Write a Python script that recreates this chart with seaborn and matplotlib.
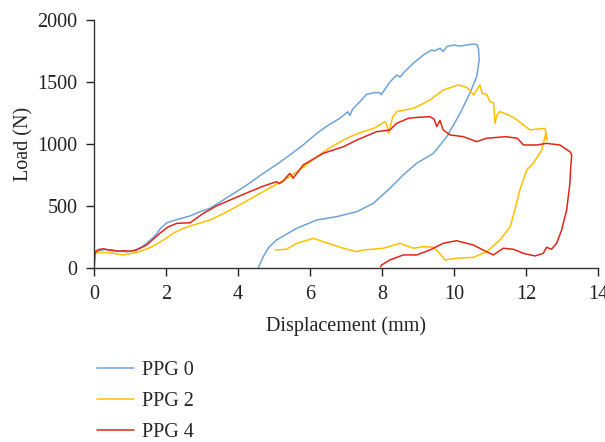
import pandas as pd
import seaborn as sns
import matplotlib.pyplot as plt

# load-displacement curves (loading then unloading)
labels = ["PPG 0", "PPG 2", "PPG 4"]
colors = ["#6fa3d8", "#ffc000", "#e0261c"]

x0 = [0.00, 0.03, 0.10, 0.30, 0.50, 0.70, 0.90, 1.10, 1.30, 1.46, 1.70, 1.85, 2.02, 2.30, 2.67,
      3.00, 3.22, 3.60, 3.96, 4.30, 4.70, 5.10, 5.44, 5.80, 6.19, 6.50, 6.83, 7.05, 7.11, 7.18,
      7.35, 7.57, 7.80, 7.94, 7.98, 8.22, 8.41, 8.50, 8.60, 8.87, 9.15, 9.38, 9.45, 9.61, 9.70,
      9.80, 9.98, 10.17, 10.40, 10.54, 10.64, 10.68, 10.70, 10.66, 10.63, 10.44, 10.17, 9.80,
      9.43, 8.96, 8.59, 8.22, 7.76, 7.30, 6.74, 6.19, 5.63, 5.07, 4.85, 4.70, 4.56]
y0 = [0, 118, 135, 150, 145, 135, 130, 140, 165, 199, 260, 320, 365, 390, 420,
      460, 481, 550, 616, 680, 763, 840, 911, 990, 1086, 1150, 1207, 1260, 1230, 1280,
      1330, 1400, 1415, 1414, 1398, 1500, 1556, 1540, 1575, 1651, 1718, 1758, 1750, 1772, 1745,
      1785, 1798, 1790, 1800, 1806, 1800, 1770, 1677, 1600, 1543, 1409, 1247, 1059,
      925, 844, 750, 643, 522, 454, 414, 387, 320, 226, 165, 91, 0]

x2 = [0.00, 0.03, 0.10, 0.30, 0.50, 0.81, 1.00, 1.27, 1.60, 1.93, 2.20, 2.48, 2.80, 3.22, 3.60,
      3.96, 4.30, 4.70, 5.10, 5.44, 5.80, 6.19, 6.55, 6.93, 7.20, 7.48, 7.80, 8.08, 8.14, 8.18,
      8.30, 8.41, 8.87, 9.10, 9.33, 9.70, 10.12, 10.35, 10.45, 10.54, 10.63, 10.72, 10.78, 10.91,
      11.00, 11.10, 11.14, 11.20, 11.28, 11.50, 11.65, 11.93, 12.11, 12.30, 12.53, 12.58, 12.55,
      12.44, 12.20, 12.02, 11.83, 11.69, 11.56, 11.28, 10.91, 10.54, 10.07, 9.75, 9.56, 9.43,
      9.15, 8.87, 8.50, 8.04, 7.48, 7.30, 6.93, 6.37, 6.09, 5.63, 5.35, 5.03]
y2 = [0, 110, 125, 125, 120, 105, 115, 132, 170, 226, 280, 320, 350, 387, 440,
      495, 550, 616, 680, 737, 810, 898, 970, 1032, 1070, 1099, 1130, 1180, 1150, 1086,
      1220, 1261, 1288, 1320, 1355, 1435, 1476, 1457, 1430, 1395, 1435, 1476, 1409, 1400,
      1341, 1330, 1167, 1240, 1261, 1235, 1215, 1153, 1113, 1120, 1126, 1032, 1086,
      952, 844, 790, 629, 468, 333, 226, 131, 86, 78, 65, 131, 167,
      172, 159, 199, 159, 145, 131, 159, 212, 239, 199, 151, 145]

x4 = [0.00, 0.02, 0.05, 0.15, 0.26, 0.40, 0.55, 0.70, 0.81, 1.00, 1.18, 1.46, 1.83, 2.05, 2.30,
      2.67, 3.04, 3.40, 3.78, 4.33, 4.70, 5.07, 5.15, 5.25, 5.44, 5.50, 5.53, 5.81, 6.37, 6.93,
      7.30, 7.85, 8.22, 8.41, 8.73, 9.00, 9.33, 9.45, 9.52, 9.61, 9.70, 9.89, 10.26, 10.63, 10.90,
      11.44, 11.76, 11.93, 12.30, 12.57, 12.94, 13.22, 13.27, 13.24, 13.22, 13.13, 12.99, 12.85,
      12.71, 12.57, 12.48, 12.25, 11.93, 11.65, 11.37, 11.09, 10.81, 10.54, 10.07, 9.70, 9.33,
      8.96, 8.59, 8.22, 7.99, 7.96]
y4 = [0, 110, 135, 150, 155, 145, 140, 135, 140, 135, 145, 185, 280, 330, 360,
      365, 441, 500, 548, 616, 660, 696, 680, 700, 763, 740, 723, 831, 925, 978,
      1032, 1099, 1113, 1167, 1207, 1215, 1220, 1200, 1140, 1190, 1113, 1073, 1059, 1019, 1046,
      1059, 1046, 992, 992, 1005, 992, 938, 911, 800, 683, 468, 306, 199,
      151, 167, 118, 97, 118, 151, 159, 105, 145, 185, 220, 199, 145,
      105, 105, 65, 24, 10]


def build_frame():
    parts = []
    for name, xs, ys in zip(labels, [x0, x2, x4], [y0, y2, y4]):
        d = pd.DataFrame({"disp": xs, "load": ys})
        d["sample"] = name
        parts.append(d)
    return pd.concat(parts, ignore_index=True)


def main():
    df = build_frame()

    sns.set_style("ticks")
    plt.rcParams["font.family"] = ["Liberation Serif", "DejaVu Serif"]

    fig = plt.figure(figsize=(6.05, 4.42), dpi=100)
    ax = fig.add_axes([0.1554, 0.3937, 0.8330, 0.5611])

    sns.lineplot(data=df, x="disp", y="load", hue="sample", units="sample",
                 estimator=None, sort=False, palette=colors, linewidth=1.1, ax=ax)

    ax.set_xlim(0, 14)
    ax.set_ylim(0, 2000)
    ax.set_xticks(range(0, 15, 2))
    ax.set_yticks(range(0, 2001, 500))
    ax.set_xlabel("Displacement (mm)", fontsize=14.5, color="#222222", labelpad=9)
    ax.set_ylabel("Load (N)", fontsize=14.5, color="#222222", labelpad=3)
    ax.tick_params(axis="both", labelsize=14.5, colors="#222222", length=6, width=1.0,
                   direction="out", pad=6)
    for side in ["left", "bottom"]:
        ax.spines[side].set_color("#333333")
        ax.spines[side].set_linewidth(1.0)
    sns.despine(ax=ax)

    sns.move_legend(ax, "upper left", bbox_to_anchor=(0.005, -0.375), frameon=False,
                    title=None, fontsize=14.5, handlelength=1.85, handletextpad=0.4,
                    labelspacing=0.6, borderpad=0, borderaxespad=0)

    fig.savefig("out.png", dpi=100)


if __name__ == "__main__":
    main()
